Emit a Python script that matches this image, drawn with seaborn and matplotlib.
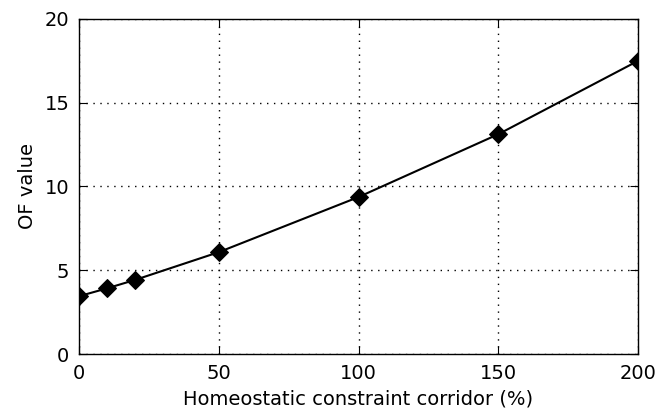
import matplotlib
matplotlib.use("Agg")
import matplotlib.pyplot as plt
import seaborn as sns
import pandas as pd

corridor = [0, 10, 20, 50, 100, 150, 200]
of_value = [3.45, 3.92, 4.42, 6.08, 9.37, 13.12, 17.5]
xticks = [0, 50, 100, 150, 200]
yticks = [0, 5, 10, 15, 20]

sns.set_style("white")
plt.rcParams['font.family'] = ['DejaVu Sans']
plt.rcParams['text.color'] = 'black'
plt.rcParams['axes.labelcolor'] = 'black'

df = pd.DataFrame({"corridor": corridor, "of": of_value})

fig = plt.figure(figsize=(6.6, 4.19), dpi=100)
ax = fig.add_axes([0.1197, 0.1551, 0.8470, 0.7996])
sns.lineplot(data=df, x="corridor", y="of", ax=ax, color="black", marker="D",
             markersize=9, markeredgecolor="black", linewidth=1.5, zorder=3)
ax.set_xlim(0, 200)
ax.set_ylim(0, 20)
ax.set_xticks(xticks)
ax.set_yticks(yticks)
ax.set_xticklabels([str(t) for t in xticks], fontsize=14)
ax.set_yticklabels([str(t) for t in yticks], fontsize=14)
ax.set_xlabel("Homeostatic constraint corridor (%)", fontsize=14, color="black", labelpad=5)
ax.set_ylabel("OF value", fontsize=14, color="black", labelpad=5)
ax.grid(True, color="black", linestyle=(0, (1, 4)), linewidth=1.0)
for s in ax.spines.values():
    s.set_visible(True)
    s.set_color("black")
    s.set_linewidth(1.0)
ax.tick_params(direction="in", length=6, width=0.8, top=True, right=True,
               bottom=True, left=True, colors="black", pad=7)
fig.savefig("out.png", dpi=100)
